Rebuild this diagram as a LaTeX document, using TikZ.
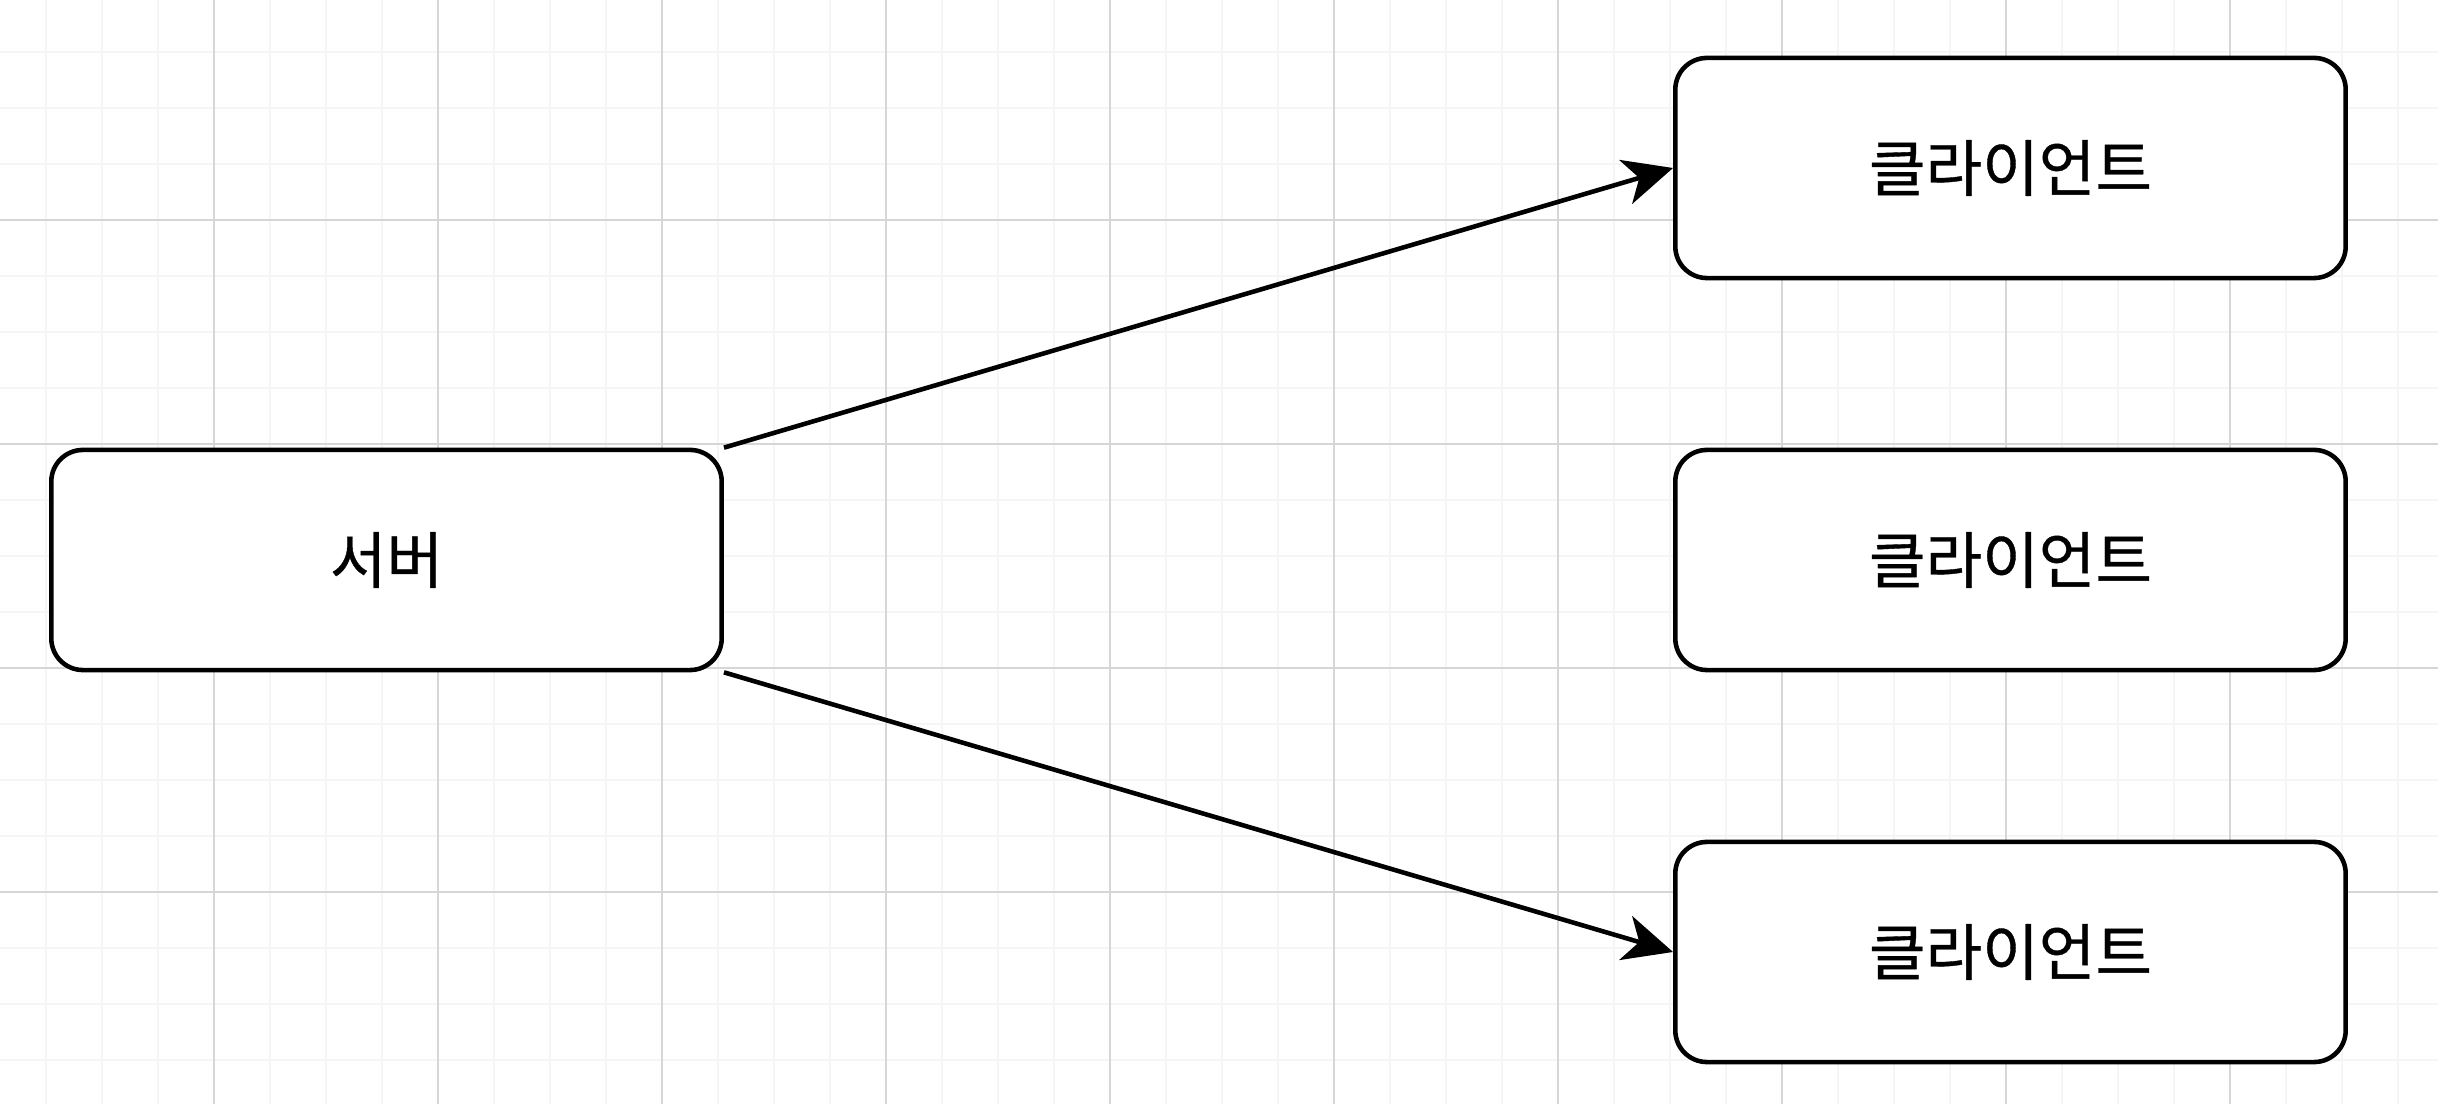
\documentclass[tikz,border=0pt]{standalone}
\usepackage{fontspec}
\newfontfamily\krfont[FakeBold=0.6]{Noto Sans CJK KR}
\usetikzlibrary{arrows.meta}
\definecolor{gridminor}{HTML}{F5F5F5}
\definecolor{gridmajor}{HTML}{D6D6D6}
\begin{document}
\begin{tikzpicture}[x=0.01cm,y=-0.01cm,
  minorline/.style={draw=gridminor, line width=0.45pt},
  majorline/.style={draw=gridmajor, line width=0.5pt},
  box/.style={draw=black, line width=1.3pt, rounded corners=9pt, fill=white,
    minimum width=6.7cm, minimum height=2.2cm, inner sep=0pt,
    font=\krfont\fontsize{17.5}{20}\selectfont},
  conn/.style={draw=black, line width=1.3pt, -{Stealth[length=14pt,width=13pt,inset=4pt]}}]
  \fill[white] (0,0) rectangle (2438,1104);
  \useasboundingbox (0,0) rectangle (2438,1104);
  % grid
  \foreach \x in {46,102,...,2438} \draw[minorline] (\x,0) -- (\x,1104);
  \foreach \y in {52,108,...,1104} \draw[minorline] (0,\y) -- (2438,\y);
  \foreach \x in {214,438,...,2438} \draw[majorline] (\x,0) -- (\x,1104);
  \foreach \y in {220,444,...,1104} \draw[majorline] (0,\y) -- (2438,\y);
  % nodes
  \node[box] (server) at (386.5,560) {서버};
  \node[box] (c1) at (2010.5,168) {클라이언트};
  \node[box] (c2) at (2010.5,560) {클라이언트};
  \node[box] (c3) at (2010.5,952) {클라이언트};
  % connectors
  \draw[conn] (server.north east) -- (c1.west);
  \draw[conn] (server.south east) -- (c3.west);
\end{tikzpicture}
\end{document}
